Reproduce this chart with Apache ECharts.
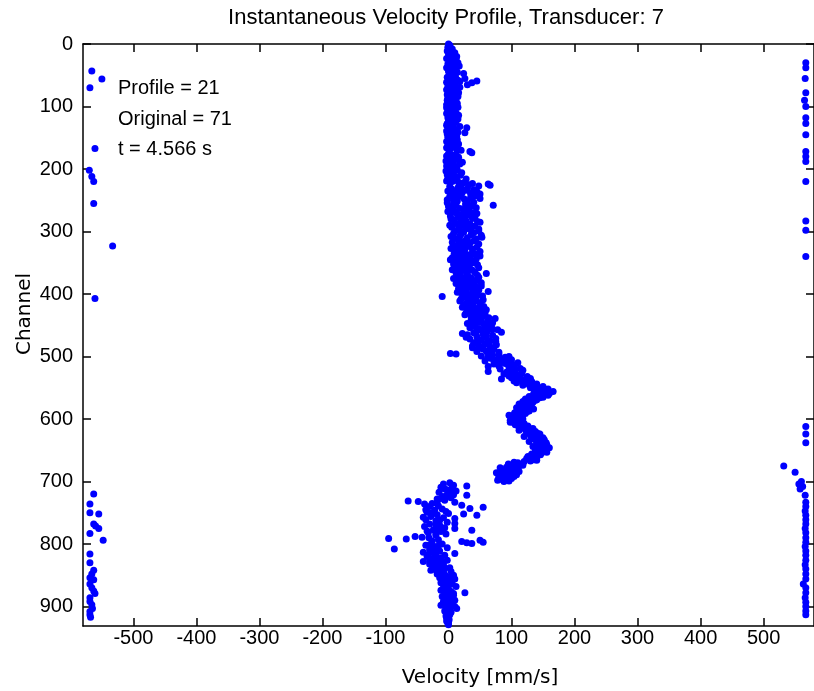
<!DOCTYPE html>
<html><head><meta charset="utf-8">
<script src="https://cdn.jsdelivr.net/npm/echarts@6/dist/echarts.min.js"></script>
<style>html,body{margin:0;padding:0;background:#fff}#c{width:814px;height:691px}</style>
</head><body><div id="c"></div>
<script>
const titleText = 'Instantaneous Velocity Profile, Transducer: 7';
const xAxisTitle = 'Velocity [mm/s]';
const yAxisTitle = 'Channel';
const infoLines = ['Profile = 21', 'Original = 71', 't = 4.566 s'];
const xTickValues = [-500,-400,-300,-200,-100,0,100,200,300,400,500];
const yTickValues = [0,100,200,300,400,500,600,700,800,900];
const xRange = [-580, 580];
const yRange = [0, 931];

// [channel, velocity mm/s]
const profileUpper = [[0,0],[2,2],[3,1],[5,-1],[6,3],[8,6],[9,2],[11,-2],[12,6],[14,10],[15,4],[17,0],[18,9],[20,13],[21,3],[23,-3],[24,12],[26,1],[27,7],[29,11],[30,15],[32,-1],[33,5],[35,17],[36,10],[38,-3],[39,2],[41,12],[42,8],[44,0],[45,14],[47,24],[48,6],[50,3],[52,11],[53,-2],[55,26],[57,6],[58,15],[59,45],[60,18],[61,-3],[62,37],[64,1],[65,30],[66,10],[68,-1],[69,18],[70,4],[72,13],[73,-3],[74,7],[76,0],[77,10],[78,16],[80,9],[81,-2],[82,3],[84,15],[85,11],[87,-1],[88,5],[90,-2],[91,12],[92,8],[94,3],[95,14],[97,-3],[98,2],[100,6],[101,15],[102,-3],[104,4],[105,10],[107,-1],[108,4],[110,12],[111,-3],[112,1],[114,16],[115,7],[117,3],[118,-1],[120,15],[121,0],[122,5],[124,12],[125,9],[127,-2],[128,2],[130,-3],[131,8],[132,18],[134,29],[135,0],[136,6],[138,11],[139,-3],[140,3],[141,15],[142,26],[144,-2],[145,5],[146,8],[148,13],[149,-1],[150,4],[152,0],[153,14],[155,10],[156,-3],[158,6],[159,1],[160,16],[162,-1],[163,11],[165,8],[166,-3],[168,3],[169,14],[170,20],[172,34],[174,37],[175,0],[176,12],[178,5],[179,-3],[180,-2],[181,16],[182,9],[184,1],[185,15],[187,-4],[188,2],[189,22],[190,7],[192,18],[193,4],[195,-3],[196,13],[198,11],[199,0],[200,4],[202,14],[203,-4],[205,0],[206,21],[208,8],[209,-2],[210,19],[212,3],[213,13],[215,-1],[216,28],[218,10],[219,-3],[220,6],[221,16],[222,24],[223,38],[224,63],[225,32],[226,66],[227,48],[228,2],[229,20],[230,15]];
const profileMiddle = [[231,30],[232,5],[233,40],[234,28],[235,-1],[236,45],[237,22],[238,12],[239,35],[240,50],[241,6],[242,20],[243,42],[244,2],[245,15],[246,35],[247,50],[248,25],[249,-2],[250,8],[251,14],[252,30],[253,40],[254,-2],[255,8],[256,27],[257,12],[258,71],[259,36],[260,0],[261,27],[262,44],[263,18],[264,8],[265,4],[266,24],[267,33],[268,-1],[269,10],[270,38],[271,45],[272,14],[273,22],[274,30],[275,3],[276,42],[277,15],[278,25],[279,38],[280,4],[281,8],[282,20],[283,28],[284,46],[285,50],[286,10],[287,12],[288,34],[289,20],[290,2],[291,42],[292,26],[293,5],[294,16],[295,30],[296,48],[297,16],[298,36],[299,48],[300,10],[301,24],[302,40],[303,8],[304,20],[305,36],[306,52],[307,18],[308,4],[309,53],[310,30],[311,10],[312,44],[313,28],[314,16],[315,40],[316,24],[317,6],[318,34],[319,22],[320,48],[321,33],[322,8],[323,14],[324,30],[325,45],[326,20],[327,4],[328,38],[329,26],[330,12],[331,18],[332,50],[333,38],[334,24],[335,9],[336,42],[337,30],[338,16],[339,50],[340,34],[341,14],[342,6],[343,22],[344,44],[345,3],[346,28],[347,36],[348,12],[349,18],[350,40],[351,28],[352,8],[353,46],[354,32],[355,10],[356,20],[357,24],[358,48],[359,34],[360,14],[361,6],[362,38],[363,20],[364,28],[365,42],[366,12],[367,60],[368,30],[369,14],[370,46],[371,30],[372,20],[373,48],[374,36],[375,8],[376,16],[377,26],[378,44],[379,18],[380,30],[381,38],[382,52],[383,12],[384,24],[385,32],[386,42],[387,52],[388,18],[389,22],[390,36],[391,16],[392,28],[393,40],[394,48],[395,28],[396,63],[397,14],[398,20],[399,44],[400,36],[401,26],[402,46],[403,54],[404,-10],[405,24],[406,38],[407,30],[408,20],[409,55],[410,44],[411,18],[412,32],[413,40],[414,50],[415,28],[416,36],[417,50],[418,24],[419,35],[420,56],[421,22],[422,40],[423,44],[424,30],[425,60],[426,50],[427,32],[428,42],[429,48],[430,28],[431,38],[432,58],[433,26],[434,46],[435,55],[436,36],[437,44],[438,64],[439,74],[440,52],[441,36],[442,46],[443,62],[444,40],[445,50],[446,70],[447,30],[448,56],[449,68],[450,38],[451,42],[452,64],[453,58],[454,34],[455,48],[456,70],[457,78],[458,52],[459,62],[460,44],[461,84]];
const profileBulge = [[462,40],[463,22],[464,55],[465,30],[466,70],[467,60],[468,45],[469,28],[470,60],[471,75],[472,34],[473,52],[474,50],[475,66],[476,75],[477,44],[478,40],[479,64],[480,58],[481,76],[482,48],[483,38],[484,66],[485,54],[486,38],[487,72],[488,55],[489,46],[490,70],[491,60],[492,45],[493,80],[494,62],[495,3],[496,12],[497,80],[498,70],[499,52],[500,96],[501,90],[502,62],[503,68],[504,84],[505,100],[506,76],[507,58],[508,94],[509,85],[510,110],[511,90],[512,72],[513,104],[514,95],[515,80],[516,63],[517,98],[518,105],[519,114],[520,82],[521,96],[522,118],[523,106],[524,63],[525,92],[526,98],[527,116],[528,88],[529,104],[530,112],[531,96],[532,125],[533,114],[534,100],[535,130],[536,84],[537,110],[538,120],[539,104],[540,132],[541,124],[542,108],[543,118],[544,140],[545,128],[546,118],[547,136],[548,150],[549,140],[550,130],[551,146],[552,158],[553,136],[554,142],[555,154],[556,166],[557,144],[558,150],[559,160],[560,135],[561,146],[562,158],[563,140],[564,128],[565,150],[566,145],[567,132],[568,122],[569,140],[570,138],[571,126],[572,118],[573,134],[574,132],[575,124],[576,112],[577,130],[578,128],[579,118],[580,120],[581,132],[582,108],[583,124],[584,135],[585,116],[586,115],[587,128],[588,125],[589,112],[590,105],[591,122],[592,118],[593,104],[594,96],[595,114],[596,110],[597,102],[598,100],[599,112],[600,118],[601,106],[602,98],[603,116],[604,108],[605,98],[606,104],[607,120],[608,115],[609,106],[610,110],[611,126],[612,122],[613,112],[614,118],[615,134],[616,130],[617,122],[618,112],[619,128],[620,138],[621,130],[622,124],[623,142],[624,145],[625,134],[626,130],[627,140],[628,120],[629,146],[630,150],[631,132],[632,136],[633,152],[634,142],[635,146],[636,128],[637,140],[638,155],[639,148],[640,140],[641,156],[642,150],[643,142],[644,134],[645,152],[646,160],[647,148],[648,145],[649,138],[650,152],[651,144],[652,138],[653,156],[654,148],[655,140],[656,132],[657,146],[658,142],[659,134],[660,126],[661,140],[662,136],[663,124],[664,128],[665,136],[666,140],[667,130],[668,120],[669,104],[670,110],[671,118],[672,95],[673,106],[674,118],[675,112],[676,100],[677,92],[678,82],[679,104],[680,108],[681,96],[682,90],[683,100],[684,112],[685,84],[686,76],[687,92],[688,98],[689,108],[690,86],[691,80],[692,104],[693,92],[694,80],[695,100],[696,94],[697,86],[698,78],[699,96],[700,88]];
const profileLower = [[702,2],[704,-8],[706,8],[707,29],[709,-12],[711,5],[712,-6],[713,-3],[715,12],[717,-15],[718,2],[719,0],[721,8],[722,29],[723,-4],[724,-10],[726,4],[727,-12],[728,-18],[730,-6],[731,-64],[732,-48],[733,10],[734,-18],[735,-26],[736,-38],[738,21],[739,-16],[740,-30],[741,55],[743,34],[744,-10],[745,-36],[746,-22],[748,-4],[749,-34],[750,-26],[751,0],[752,24],[753,-18],[754,45],[756,-28],[757,-40],[758,-8],[759,10],[761,-36],[762,-14],[763,-20],[765,-2],[767,10],[768,-30],[769,-20],[770,-14],[772,-38],[774,-6],[775,10],[776,-16],[777,-24],[778,37],[779,-34],[780,-12],[782,-32],[783,-20],[784,-4],[786,-20],[788,-53],[789,-42],[790,-31],[791,-95],[792,-67],[793,-16],[794,50],[795,-26],[796,21],[797,55],[798,29],[799,37],[800,-10],[801,-30],[802,-36],[803,-16],[804,-22],[806,-2],[807,-26],[808,-86],[809,-30],[810,-18],[811,-14],[813,-40],[814,-24],[815,10],[816,-20],[817,-32],[818,-6],[820,-34],[821,-22],[822,-12],[824,-26],[825,-16],[826,-2],[827,-30],[828,-40],[829,-8],[830,-16],[831,-22],[832,-30],[833,-12],[834,-8],[836,-22],[837,-16],[838,2],[839,-6],[840,-14],[841,-20],[842,-28],[843,-8],[844,4],[845,-14],[846,-10],[848,-18],[849,-6],[850,8],[851,-12],[852,-4],[853,2],[854,-14],[856,10],[857,-6],[858,-8],[860,2],[861,-10],[862,-12],[864,6],[865,-6],[866,-4],[868,12],[869,-2],[870,-8],[872,0],[873,-6],[874,-12],[876,4],[877,-4],[878,26],[879,8],[880,-6],[882,8],[883,-2],[884,-10],[886,2],[887,-6],[888,-4],[890,10],[891,-2],[892,-8],[894,0],[895,-4],[896,6],[898,-12],[899,4],[900,10],[902,-4],[903,13],[904,2],[905,0],[907,-6],[908,2],[909,4],[911,-2],[913,2],[914,-2],[915,-4],[917,0],[918,-3],[919,-2],[921,1],[923,-3],[925,0],[927,-1],[929,0]];
const aliasNegative = [[43,-566],[56,-550],[70,-569],[167,-561],[202,-570],[212,-566],[220,-563],[255,-563],[323,-533],[407,-561],[720,-563],[736,-569],[750,-569],[752,-555],[768,-563],[771,-560],[775,-555],[783,-569],[794,-548],[816,-569],[830,-569],[842,-563],[848,-566],[854,-569],[857,-563],[864,-569],[870,-566],[875,-563],[879,-561],[886,-569],[892,-569],[897,-566],[903,-565],[908,-569],[913,-569],[917,-568]];
const aliasPositive = [[30,567],[38,567],[55,566],[78,567],[90,565],[100,567],[118,567],[127,567],[145,567],[172,567],[180,567],[188,567],[220,567],[283,567],[298,567],[340,567],[612,567],[624,567],[638,567],[675,532],[685,550],[700,560],[704,556],[708,562],[712,558],[722,566],[733,567],[740,567],[747,566],[754,567],[761,567],[768,567],[775,566],[782,567],[790,567],[797,567],[804,566],[811,567],[818,567],[826,567],[833,566],[840,567],[848,567],[856,567],[864,563],[870,567],[878,567],[886,566],[893,567],[900,567],[907,567],[913,567]];

const allPoints = [].concat(profileUpper, profileMiddle, profileBulge, profileLower, aliasNegative, aliasPositive)
  .map(p => [p[1], p[0]]);

const FONT = 'Liberation Sans, Arial, sans-serif';
const axisLineStyle = {color: '#000', width: 1.5};
function xAx(pos, showLabel) {
  return {
    type: 'value', position: pos, min: xRange[0], max: xRange[1],
    axisLine: {show: true, onZero: false, lineStyle: axisLineStyle},
    axisTick: {show: true, inside: true, length: 8, lineStyle: {color: '#000', width: 1.5}, customValues: xTickValues},
    axisLabel: {show: showLabel, customValues: xTickValues, margin: 2, fontFamily: FONT, fontSize: 20, color: '#000'},
    splitLine: {show: false}
  };
}
function yAx(pos, showLabel) {
  return {
    type: 'value', position: pos, inverse: true, min: yRange[0], max: yRange[1],
    axisLine: {show: true, onZero: false, lineStyle: axisLineStyle},
    axisTick: {show: true, inside: true, length: 8, lineStyle: {color: '#000', width: 1.5}, customValues: yTickValues},
    axisLabel: {show: showLabel, customValues: yTickValues, margin: 10, fontFamily: FONT, fontSize: 20, color: '#000'},
    splitLine: {show: false}
  };
}

const chart = echarts.init(document.getElementById('c'), null, {renderer: 'canvas'});
chart.setOption({
  animation: false,
  backgroundColor: '#fff',
  grid: {left: 83, top: 44, width: 736, height: 582, containLabel: false},
  xAxis: [xAx('bottom', true), xAx('top', false)],
  yAxis: [yAx('left', true), yAx('right', false)],
  series: [{
    type: 'scatter', xAxisIndex: 0, yAxisIndex: 0,
    symbol: 'circle', symbolSize: 7,
    itemStyle: {color: '#0000ff', opacity: 1},
    data: allPoints
  }],
  graphic: [
    {type: 'text', x: 446, y: 18, style: {text: titleText, fontFamily: FONT, fontSize: 22, fill: '#000', align: 'center', verticalAlign: 'middle', textAlign: 'center', textVerticalAlign: 'middle'}},
    {type: 'text', x: 480, y: 678, style: {text: xAxisTitle, fontFamily: 'DejaVu Sans', fontSize: 20, fill: '#000', align: 'center', verticalAlign: 'middle', textAlign: 'center', textVerticalAlign: 'middle'}},
    {type: 'text', x: 25, y: 314, rotation: Math.PI / 2, style: {text: yAxisTitle, fontFamily: 'DejaVu Sans', fontSize: 20, fill: '#000', align: 'center', verticalAlign: 'middle', textAlign: 'center', textVerticalAlign: 'middle'}},
    {type: 'text', x: 118, y: 88, style: {text: infoLines[0], fontFamily: FONT, fontSize: 20, fill: '#000', align: 'left', verticalAlign: 'middle', textVerticalAlign: 'middle'}},
    {type: 'text', x: 118, y: 119, style: {text: infoLines[1], fontFamily: FONT, fontSize: 20, fill: '#000', align: 'left', verticalAlign: 'middle', textVerticalAlign: 'middle'}},
    {type: 'text', x: 118, y: 149, style: {text: infoLines[2], fontFamily: FONT, fontSize: 20, fill: '#000', align: 'left', verticalAlign: 'middle', textVerticalAlign: 'middle'}}
  ]
});
</script></body></html>
